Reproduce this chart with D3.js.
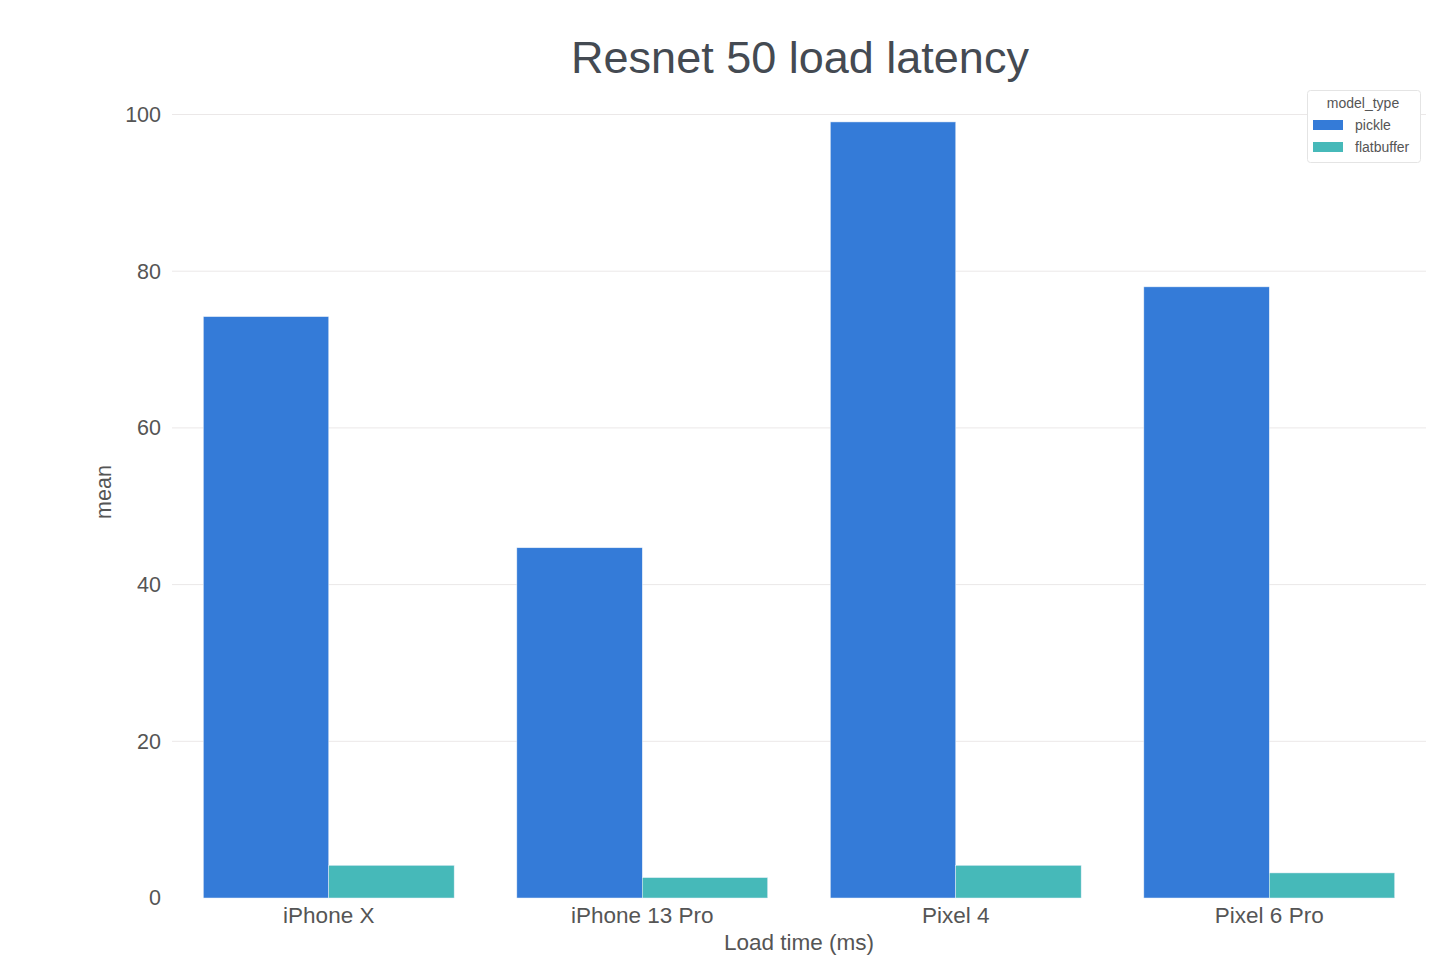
<!DOCTYPE html>
<html>
<head>
<meta charset="utf-8">
<script src="https://cdn.jsdelivr.net/npm/d3@7"></script>
<style>
  html, body { margin: 0; padding: 0; background: #fff; }
  svg { display: block; font-family: "Liberation Sans", Arial, sans-serif; }
</style>
</head>
<body>
<svg id="chart" width="1447" height="960"></svg>
<script>
const categories = ["iPhone X", "iPhone 13 Pro", "Pixel 4", "Pixel 6 Pro"];
const seriesNames = ["pickle", "flatbuffer"];
const pickleValues = [74.2, 44.7, 99.05, 78.0];
const flatbufferValues = [4.17, 2.6, 4.17, 3.2];
const yTicks = [0, 20, 40, 60, 80, 100];
const seriesColors = ["#347bd8", "#46b9b9"];

const W = 1447, H = 960;
const margin = { left: 172, right: 21, top: 114.5, bottom: 62 };
const svg = d3.select("#chart");

const x = d3.scaleBand().domain(categories).range([margin.left, W - margin.right]).paddingInner(0.2).paddingOuter(0.1);
const xs = d3.scaleBand().domain(seriesNames).range([0, x.bandwidth()]);
const y = d3.scaleLinear().domain([0, 100]).range([H - margin.bottom, margin.top]);

// grid
svg.append("g").selectAll("line").data(yTicks.filter(d => d !== 0)).join("line")
  .attr("x1", margin.left).attr("x2", W - margin.right)
  .attr("y1", d => y(d)).attr("y2", d => y(d))
  .attr("stroke", "#ebe8e8").attr("stroke-width", 1);

// y axis
const yAxis = d3.axisLeft(y).tickValues(yTicks).tickSize(0).tickPadding(11);
const gy = svg.append("g").attr("transform", `translate(${margin.left},0)`).call(yAxis);
gy.select(".domain").remove();
gy.selectAll("text").attr("font-size", 21.5).attr("fill", "#555").attr("font-family", "Liberation Sans, Arial, sans-serif");

// x axis
const xAxis = d3.axisBottom(x).tickSize(0).tickPadding(9);
const gx = svg.append("g").attr("transform", `translate(0,${y(0)})`).call(xAxis);
gx.select(".domain").remove();
gx.selectAll("text").attr("font-size", 22.5).attr("fill", "#555").attr("font-family", "Liberation Sans, Arial, sans-serif");

// bars
const data = categories.map((c, i) => ({ cat: c, vals: [pickleValues[i], flatbufferValues[i]] }));
const groups = svg.append("g").selectAll("g").data(data).join("g")
  .attr("transform", d => `translate(${x(d.cat)},0)`);
groups.selectAll("rect").data(d => d.vals.map((v, j) => ({ s: seriesNames[j], v, j }))).join("rect")
  .attr("x", d => xs(d.s)).attr("width", xs.bandwidth())
  .attr("y", d => y(d.v)).attr("height", d => y(0) - y(d.v))
  .attr("fill", d => seriesColors[d.j])
  .attr("stroke", "#e6eef8").attr("stroke-width", 0.5);

// title
svg.append("text").attr("x", 800).attr("y", 73).attr("text-anchor", "middle")
  .attr("font-size", 45).attr("fill", "#444a52").text("Resnet 50 load latency");

// axis titles
svg.append("text").attr("x", 799).attr("y", 950).attr("text-anchor", "middle")
  .attr("font-size", 22.5).attr("fill", "#555").text("Load time (ms)");
svg.append("text").attr("transform", "translate(111,492) rotate(-90)").attr("text-anchor", "middle")
  .attr("font-size", 21.5).attr("fill", "#555").text("mean");

// legend
const lg = svg.append("g").attr("transform", "translate(1307,90)");
lg.append("rect").attr("x", 0.5).attr("y", 0.5).attr("width", 113).attr("height", 72).attr("rx", 3)
  .attr("fill", "#fff").attr("stroke", "#e4e4e4").attr("stroke-width", 1);
lg.append("text").attr("x", 56).attr("y", 18).attr("text-anchor", "middle")
  .attr("font-size", 14).attr("fill", "#555").text("model_type");
seriesNames.forEach((s, i) => {
  const yy = 35 + i * 22;
  lg.append("rect").attr("x", 6).attr("y", yy - 5).attr("width", 30).attr("height", 10).attr("fill", seriesColors[i]);
  lg.append("text").attr("x", 48).attr("y", yy + 5).attr("font-size", 14).attr("fill", "#555").text(s);
});
</script>
</body>
</html>
